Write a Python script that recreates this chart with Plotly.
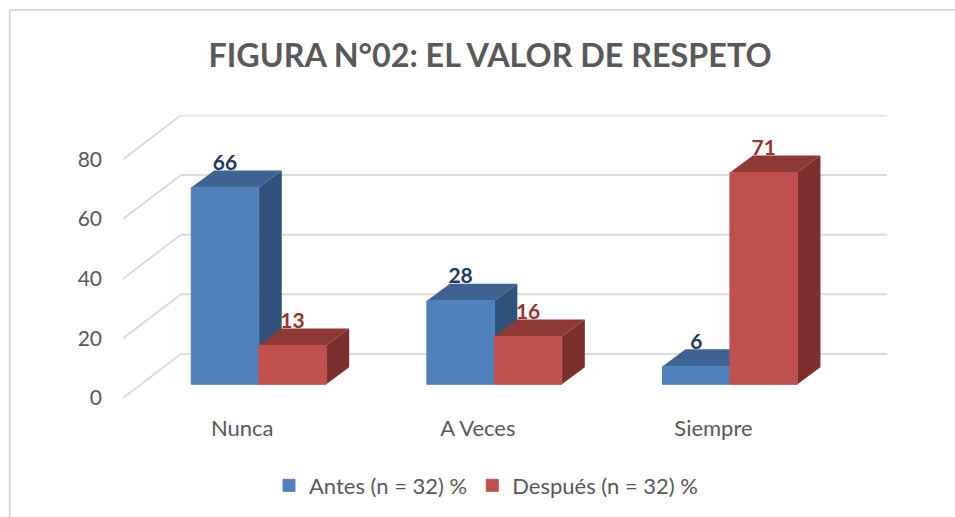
import plotly.graph_objects as go

# ---- data ----
categories = ["Nunca", "A Veces", "Siempre"]
series_names = ["Antes (n = 32) %", "Después (n = 32) %"]
antes = [66, 28, 6]
despues = [13, 16, 71]
y_ticks = [0, 20, 40, 60, 80]
title_text = "FIGURA N°02: EL VALOR DE RESPETO"

# ---- canvas / scale constants (pixels) ----
W, H = 955, 517
LEFT, RIGHT, TOP, BOTTOM = 122.7, 887.0, 115.0, 397.7
PX_X = 235.7     # px per category
PX_Y = 2.98      # px per value unit
TICK0 = 242.0    # px of first category label
FONT = "Lato, 'Open Sans', sans-serif"
GREY = "#595959"

xr = [(LEFT - TICK0) / PX_X, (RIGHT - TICK0) / PX_X]
yr = [0, (BOTTOM - TOP) / PX_Y]

# depth projection, in axis units
wall_dx, wall_dy = 58 / PX_X, 44 / PX_Y     # axis front -> back wall
bar_dx, bar_dy = 23 / PX_X, 17 / PX_Y       # bar depth
floor = (BOTTOM - 384) / PX_Y               # bar front plane above axis base
bar_w = 67.5 / PX_X
offs = [-51 / PX_X, -51 / PX_X + bar_w]     # bar left edge relative to the category tick
label_gap = 22.5 / PX_Y

styles = [
    dict(front="#4F81BD", top="#3E6391", side="#305179", text="#1F3A63"),
    dict(front="#C0504D", top="#8F3936", side="#7B2F2D", text="#983533"),
]
series = [antes, despues]

fig = go.Figure()

# back wall + side wall gridlines
gx, gy = [], []
for t in y_ticks:
    gx += [xr[0], xr[0] + wall_dx, xr[1], None]
    gy += [t, t + wall_dy, t + wall_dy, None]
fig.add_trace(go.Scatter(x=gx, y=gy, mode="lines", line=dict(color="#DCDCDC", width=2),
                         hoverinfo="skip", showlegend=False, cliponaxis=False))

# extruded faces (top + side), blue first so red overlaps it
for vals, off, st in zip(series, offs, styles):
    for i, v in enumerate(vals):
        xl, xr_ = i + off, i + off + bar_w
        yb, yt = floor, floor + v
        fig.add_trace(go.Scatter(
            x=[xr_, xr_ + bar_dx, xr_ + bar_dx, xr_, xr_],
            y=[yb, yb + bar_dy, yt + bar_dy, yt, yb],
            mode="lines", fill="toself", fillcolor=st["side"], line=dict(width=0),
            hoverinfo="skip", showlegend=False))
        fig.add_trace(go.Scatter(
            x=[xl, xl + bar_dx, xr_ + bar_dx, xr_, xl],
            y=[yt, yt + bar_dy, yt + bar_dy, yt, yt],
            mode="lines", fill="toself", fillcolor=st["top"], line=dict(width=0),
            hoverinfo="skip", showlegend=False))

# front faces: real bars on an overlay axis pair, so they sit above the extrusions
for name, vals, off, st in zip(series_names, series, offs, styles):
    fig.add_trace(go.Bar(
        x=list(range(len(categories))), y=vals, base=floor, offset=off, width=bar_w,
        name=name, xaxis="x2", yaxis="y2",
        marker=dict(color=st["front"], line=dict(color=st["front"], width=1)),
    ))

# value labels
for vals, off, st in zip(series, offs, styles):
    fig.add_trace(go.Scatter(
        x=[i + off + bar_w / 2 for i in range(len(vals))],
        y=[floor + v + label_gap for v in vals],
        text=[str(v) for v in vals], mode="text", textposition="middle center",
        textfont=dict(family=FONT, size=21, color=st["text"], weight="bold"),
        xaxis="x2", yaxis="y2", hoverinfo="skip", showlegend=False, cliponaxis=False))

fig.update_layout(
    width=W, height=H, autosize=False,
    paper_bgcolor="white", plot_bgcolor="rgba(0,0,0,0)",
    margin=dict(l=LEFT, r=W - RIGHT, t=TOP, b=H - BOTTOM, pad=0),
    font=dict(family=FONT, color=GREY),
    title=dict(text=f"<b>{title_text}</b>", x=490 / W, xanchor="center", xref="container",
               y=1 - 56 / H, yanchor="middle", yref="container",
               font=dict(family=FONT, size=32.3, color=GREY)),
    xaxis=dict(range=xr, tickmode="array", tickvals=list(range(len(categories))), ticktext=categories,
               showgrid=False, zeroline=False, showline=False, ticks="", ticklabelstandoff=15,
               tickfont=dict(family=FONT, size=22, color=GREY), fixedrange=True),
    yaxis=dict(range=yr, tickmode="array", tickvals=y_ticks, showgrid=False, zeroline=False,
               showline=False, ticks="", ticklabelstandoff=20,
               tickfont=dict(family=FONT, size=21, color=GREY), fixedrange=True),
    xaxis2=dict(range=xr, overlaying="x", visible=False, fixedrange=True),
    yaxis2=dict(range=yr, overlaying="y", visible=False, fixedrange=True),
    legend=dict(orientation="h", x=269 / W, xref="container", xanchor="left", y=1 - 485.5 / H,
                yanchor="middle", yref="container", font=dict(family=FONT, size=22, color=GREY),
                bgcolor="rgba(0,0,0,0)", traceorder="normal"),
    shapes=[dict(type="rect", xref="paper", yref="paper", x0=-(LEFT - 9.5) / (RIGHT - LEFT),
                 x1=(W + 20 - LEFT) / (RIGHT - LEFT), y0=-0.6,
                 y1=1 + (TOP - 10) / (BOTTOM - TOP), line=dict(color="#D9D9D9", width=2),
                 fillcolor="rgba(0,0,0,0)", layer="below")],
)

fig.write_html("out.html", config=dict(displayModeBar=False),
               post_script="document.body.style.margin='0';")
